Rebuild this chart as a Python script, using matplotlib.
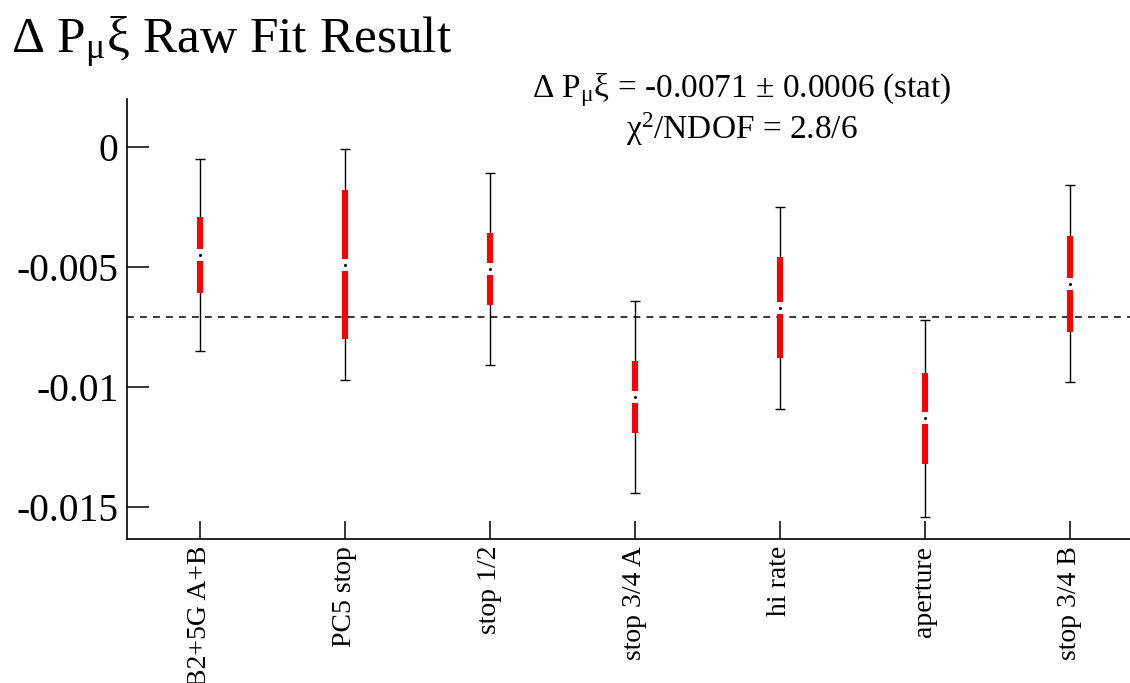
import matplotlib
matplotlib.use("Agg")
import matplotlib.pyplot as plt

plt.rcParams['font.family'] = ['Liberation Serif', 'DejaVu Serif']
plt.rcParams['mathtext.fontset'] = 'custom'
plt.rcParams['mathtext.rm'] = 'Liberation Serif'
plt.rcParams['mathtext.it'] = 'Liberation Serif:italic'

categories = ["B2+5G A+B", "PC5 stop", "stop 1/2", "stop 3/4 A", "hi rate", "aperture", "stop 3/4 B"]
values = [-0.0045, -0.0049, -0.0051, -0.0104, -0.0067, -0.0113, -0.0057]
total_err = [0.0040, 0.0048, 0.0040, 0.0040, 0.0042, 0.0041, 0.0041]
stat_err = [0.0016, 0.0031, 0.0015, 0.0015, 0.0021, 0.0019, 0.0020]
fit_value = -0.0071
ytick_vals = [0, -0.005, -0.01, -0.015]
ytick_labels = ["0", "-0.005", "-0.01", "-0.015"]

W, H = 1130, 683
fig = plt.figure(figsize=(W / 100, H / 100), dpi=100)
ax = fig.add_axes([127 / W, (H - 539) / H, (1142.5 - 127) / W, (539 - 99) / H])

x = list(range(1, len(categories) + 1))

ax.errorbar(x, values, yerr=total_err, fmt='none', ecolor='black', elinewidth=1.0,
            capsize=3.6, capthick=1.0, zorder=2)
ax.errorbar(x, values, yerr=stat_err, fmt='none', ecolor='#ff0000', elinewidth=4.4,
            capsize=0, zorder=3)
ax.plot(x, values, linestyle='none', marker='s', markersize=8.5, color='white',
        markeredgewidth=0, zorder=4)
ax.plot(x, values, linestyle='none', marker='o', markersize=2.2, color='black',
        markeredgewidth=0, zorder=5)

ax.axhline(fit_value, color='black', linewidth=1.1, linestyle=(0, (4.5, 4.0)), zorder=1)

ax.set_xlim(0.5, 7.5)
ax.set_ylim(-0.01633, 0.002)

ax.set_xticks(x)
ax.set_xticklabels(categories, rotation=90, fontsize=20, va='top', ha='center')
ax.set_yticks(ytick_vals)
ax.set_yticklabels(ytick_labels, fontsize=28.5)

ax.tick_params(axis='x', direction='in', length=13, width=1.1, pad=5)
ax.tick_params(axis='y', direction='in', length=16, width=1.1, pad=6)
for s in ['top', 'right']:
    ax.spines[s].set_visible(False)
for s in ['left', 'bottom']:
    ax.spines[s].set_linewidth(1.2)

fig.text(11 / W, 1 - 53 / H, r"Δ P$_{\mathrm{μ}}$ξ Raw Fit Result", fontsize=37,
         ha='left', va='baseline')
fig.text(742 / W, 1 - 90 / H, r"Δ P$_{\mathrm{μ}}$ξ = -0.0071 ± 0.0006 (stat)", fontsize=24,
         ha='center', va='center')
fig.text(742 / W, 1 - 129 / H, r"χ$^{2}$/NDOF = 2.8/6", fontsize=24,
         ha='center', va='center')

fig.savefig("out.png", dpi=100)
